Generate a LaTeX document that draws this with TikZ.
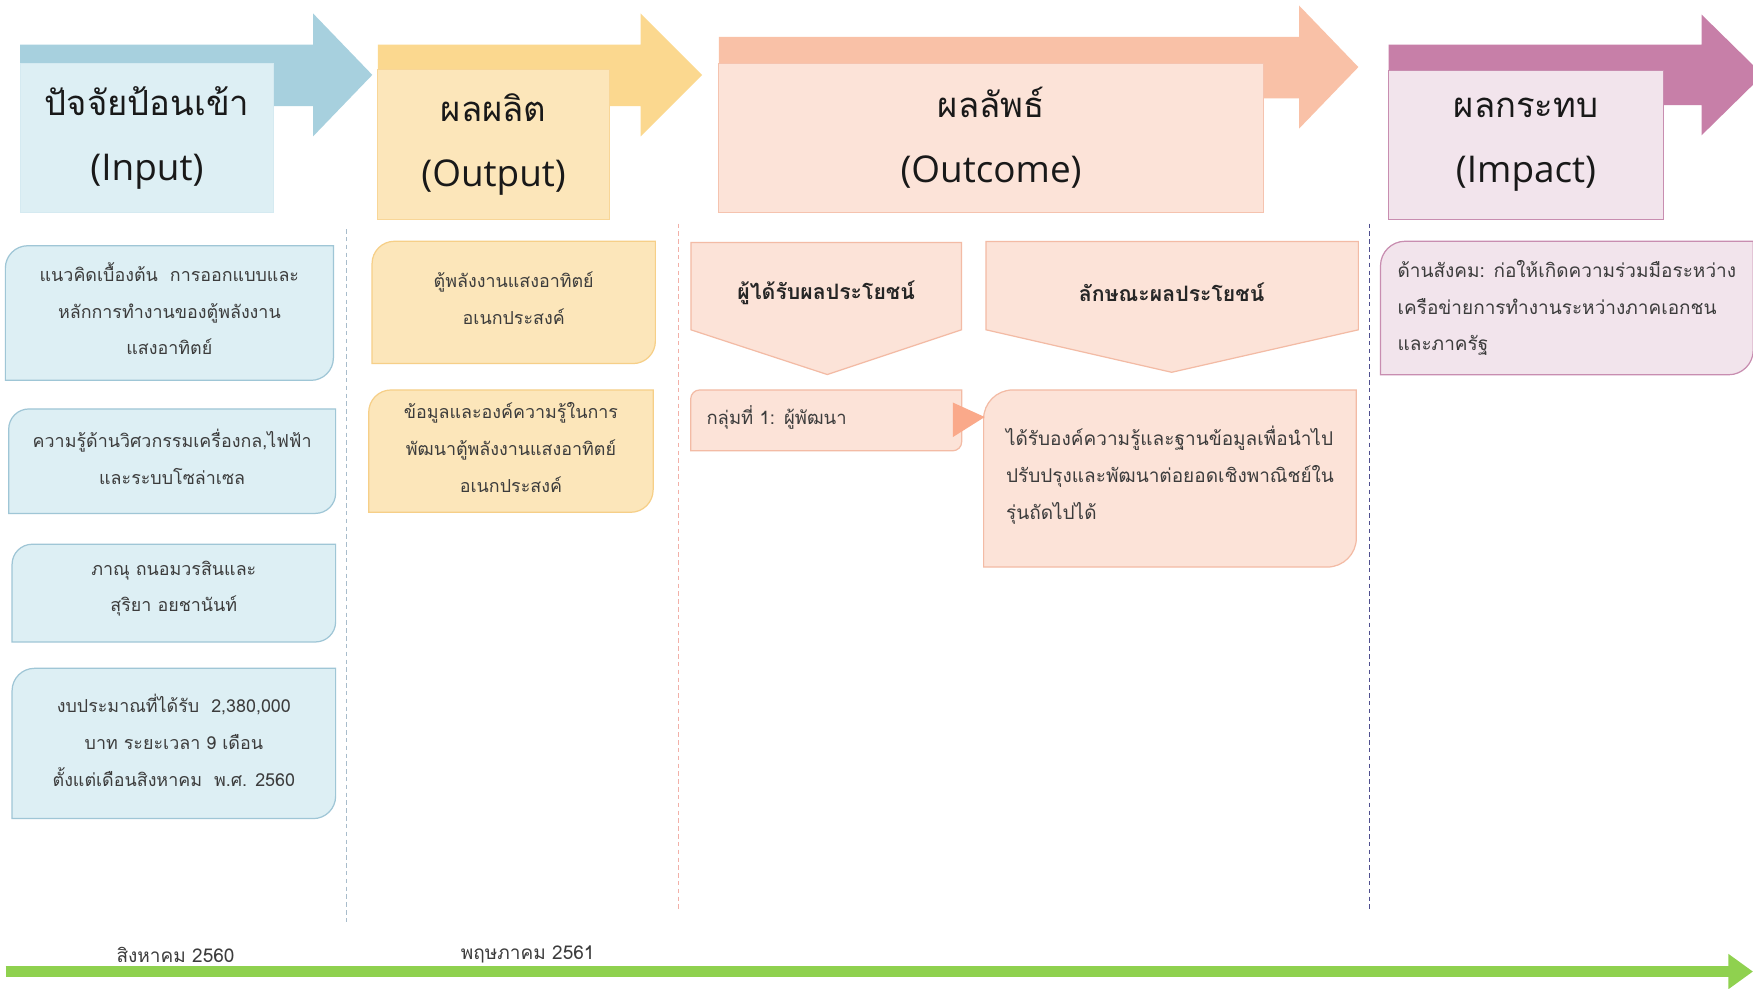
\documentclass[tikz,border=0pt]{standalone}
\usepackage{fontspec}
\setmainfont{Loma}[Script=Thai]
\newfontfamily\latinhead{Open Sans}
\usetikzlibrary{arrows.meta}
\pgfdeclarelayer{background}
\pgfsetlayers{background,main}

% stage colours
\definecolor{inBand}{HTML}{A7D0DE}
\definecolor{inFill}{HTML}{DDEFF4}
\definecolor{inLine}{HTML}{9FC6D6}
\definecolor{outBand}{HTML}{FBD88F}
\definecolor{outFill}{HTML}{FCE6BA}
\definecolor{outLine}{HTML}{F6CF88}
\definecolor{ocBand}{HTML}{F9C1A7}
\definecolor{ocFill}{HTML}{FCE3D8}
\definecolor{ocLine}{HTML}{F3BBA5}
\definecolor{ocTri}{HTML}{FAA98A}
\definecolor{imBand}{HTML}{C77FA8}
\definecolor{imFill}{HTML}{F2E4EC}
\definecolor{imLine}{HTML}{C88DB0}
\definecolor{timeGreen}{HTML}{8FD14F}
\definecolor{bodyTxt}{HTML}{3C3C3C}
\definecolor{sepA}{HTML}{A8BCCB}
\definecolor{sepB}{HTML}{F2B0A8}
\definecolor{sepC}{HTML}{4F4F8F}

% box with rounded top-left and bottom-right corners, behind node #2;
% #1 lowers the box against its text node, #3 is the corner radius
\newcommand\leafpath[4][0pt]{%
  \begin{pgfonlayer}{background}
  \path[#4] ([yshift=-#3,yshift=-#1]#2.north west)
    arc[start angle=180,end angle=90,radius=#3] -- ([yshift=-#1]#2.north east)
    -- ([yshift=#3,yshift=-#1]#2.south east)
    arc[start angle=0,end angle=-90,radius=#3] -- ([yshift=-#1]#2.south west) -- cycle;
  \end{pgfonlayer}}

\newcommand\headlatin[1]{{\latinhead\fontsize{33}{58}\selectfont #1}}

\begin{document}
\begin{tikzpicture}[x=1pt,y=1pt,
  titlebox/.style={inner sep=0pt, line width=0.8pt, align=center, text=black!90,
    font=\fontsize{31}{58}\selectfont},
  body/.style={inner sep=0pt, align=center, text=bodyTxt,
    font=\fontsize{16}{33}\selectfont},
  bodyleft/.style={body, align=left},
  blueleaf/.style={fill=inFill, draw=inLine, line width=1.1pt},
  orangeleaf/.style={fill=outFill, draw=outLine, line width=1.1pt},
  peachleaf/.style={fill=ocFill, draw=ocLine, line width=1.1pt},
  pinkleaf/.style={fill=imFill, draw=imLine, line width=1.1pt},
  pentagon/.style={fill=ocFill, draw=ocLine, line width=1.1pt},
  pentlabel/.style={body, font=\fontsize{19}{22}\selectfont\bfseries, text=black!85},
  sep/.style={line width=1pt, dash pattern=on 4pt off 3pt},
  timeline/.style={line width=10pt, timeGreen, -{Triangle[length=22pt,width=30pt]}},
  datelabel/.style={inner sep=0pt, text=bodyTxt, font=\fontsize{17}{20}\selectfont}
]
\useasboundingbox (0,0) rectangle (1568,-884);
\begin{pgfonlayer}{background}
\fill[white] (0,0) rectangle (1568,-884);
\end{pgfonlayer}
\clip (0,0) rectangle (1568,-884);

% ---- stage arrows along the top ----
\fill[inBand] (18,-40) -- (280,-40) -- (280,-12) -- (333,-67) -- (280,-122)
  -- (280,-95) -- (18,-95) -- cycle;
\fill[outBand] (338,-40) -- (573,-40) -- (573,-12) -- (628,-67) -- (573,-122)
  -- (573,-95) -- (338,-95) -- cycle;
\fill[ocBand] (643,-33) -- (1162,-33) -- (1162,-5) -- (1215,-60) -- (1162,-115)
  -- (1162,-88) -- (643,-88) -- cycle;
\fill[imBand] (1242,-40) -- (1522,-40) -- (1522,-13) -- (1577,-67) -- (1522,-121)
  -- (1522,-94) -- (1242,-94) -- cycle;

% ---- stage titles ----
\node[titlebox, fill=inFill, draw=inFill!85!inBand, minimum width=227pt, minimum height=133pt]
  (tInput) at (131.5,-123.5) {ปัจจัยป้อนเข้า\\\headlatin{(Input)}};
\node[titlebox, fill=outFill, draw=outLine!70!outFill, minimum width=207pt, minimum height=134pt]
  (tOutput) at (441.5,-129) {ผลผลิต\\\headlatin{(Output)}};
\node[titlebox, fill=ocFill, draw=ocLine!80!ocFill, minimum width=487pt, minimum height=133pt]
  (tOutcome) at (886.5,-123.5) {ผลลัพธ์\\\headlatin{(Outcome)}};
\node[titlebox, fill=imFill, draw=imLine, minimum width=246pt, minimum height=133pt]
  (tImpact) at (1365,-129.5) {ผลกระทบ\\\headlatin{(Impact)}};

% ---- column separators ----
\coordinate (s1a) at (310,-205); \coordinate (s1b) at (310,-825);
\coordinate (s2a) at (607,-200); \coordinate (s2b) at (607,-815);
\coordinate (s3a) at (1225,-200); \coordinate (s3b) at (1225,-815);
\draw[sep, sepA] (s1a) -- (s1b);
\draw[sep, sepB] (s2a) -- (s2b);
\draw[sep, sepC] (s3a) -- (s3b);

% ---- inputs ----
\node[body, minimum width=293pt, minimum height=120pt] (in1) at (151.5,-276)
  {แนวคิดเบื้องต้น~ การออกแบบและ\\หลักการทำงานของตู้พลังงาน\\แสงอาทิตย์};
\leafpath[4pt]{in1}{20pt}{blueleaf}
\node[body, minimum width=292pt, minimum height=93pt] (in2) at (154,-408.5)
  {ความรู้ด้านวิศวกรรมเครื่องกล,ไฟฟ้า\\และระบบโซล่าเซล};
\leafpath[4pt]{in2}{18pt}{blueleaf}
\node[body, minimum width=289pt, minimum height=87pt] (in3) at (155.5,-526.5)
  {ภาณุ ถนอมวรสินและ\\สุริยา อยชานันท์};
\leafpath[4pt]{in3}{18pt}{blueleaf}
\node[body, minimum width=289pt, minimum height=134pt] (in4) at (155.5,-662)
  {งบประมาณที่ได้รับ~ 2,380,000\\บาท ระยะเวลา 9 เดือน\\ตั้งแต่เดือนสิงหาคม~ พ.ศ. 2560};
\leafpath[3pt]{in4}{20pt}{blueleaf}

% ---- outputs ----
\node[body, minimum width=253pt, minimum height=109pt] (out1) at (459.5,-266.5)
  {ตู้พลังงานแสงอาทิตย์\\อเนกประสงค์};
\leafpath[4pt]{out1}{20pt}{orangeleaf}
\node[body, minimum width=254pt, minimum height=109pt] (out2) at (457,-400.5)
  {ข้อมูลและองค์ความรู้ในการ\\พัฒนาตู้พลังงานแสงอาทิตย์\\อเนกประสงค์};
\leafpath[3pt]{out2}{20pt}{orangeleaf}

% ---- outcomes ----
\path[pentagon] (618,-217) -- (860,-217) -- (860,-295)
  -- (740,-335) -- (618,-295) -- cycle;
\node[pentlabel] (who) at (739,-262) {ผู้ได้รับผลประโยชน์};
\path[pentagon] (882,-216) -- (1215,-216) -- (1215,-295)
  -- (1048,-333) -- (882,-295) -- cycle;
\node[pentlabel] (what) at (1048,-261) {ลักษณะผลประโยชน์};

\node[bodyleft, font=\fontsize{16.5}{19}\selectfont, text width=214pt, inner xsep=14pt,
  minimum height=54pt] (grp) at (739,-373) {กลุ่มที่ 1: ผู้พัฒนา};
\leafpath[3pt]{grp}{8pt}{peachleaf}
\node[bodyleft, font=\fontsize{17}{33}\selectfont, minimum width=333pt, minimum height=158pt]
  (gain) at (1046.5,-425) {ได้รับองค์ความรู้และฐานข้อมูลเพื่อนำไป\\ปรับปรุงและพัฒนาต่อยอดเชิงพาณิชย์ใน\\รุ่นถัดไปได้};
\leafpath[3pt]{gain}{26pt}{peachleaf}
\fill[ocTri] ([xshift=-8pt,yshift=13pt]grp.east) -- ([xshift=1pt]gain.west |- grp.east)
  -- ([xshift=-8pt,yshift=-18pt]grp.east) -- cycle;

% ---- impact ----
\node[bodyleft, font=\fontsize{17}{33}\selectfont, minimum width=333pt, minimum height=119pt]
  (soc) at (1401.5,-275.5)
  {ด้านสังคม: ก่อให้เกิดความร่วมมือระหว่าง\\เครือข่ายการทำงานระหว่างภาคเอกชน\\และภาครัฐ};
\leafpath{soc}{22pt}{pinkleaf}

% ---- time line ----
\coordinate (tStart) at (5,-869);
\coordinate (tEnd) at (1568,-869);
\draw[timeline] (tStart) -- (tEnd);
\node[datelabel] (d1) at (157,-854) {สิงหาคม 2560};
\node[datelabel] (d2) at (472,-854) {พฤษภาคม 2561};
\end{tikzpicture}
\end{document}
